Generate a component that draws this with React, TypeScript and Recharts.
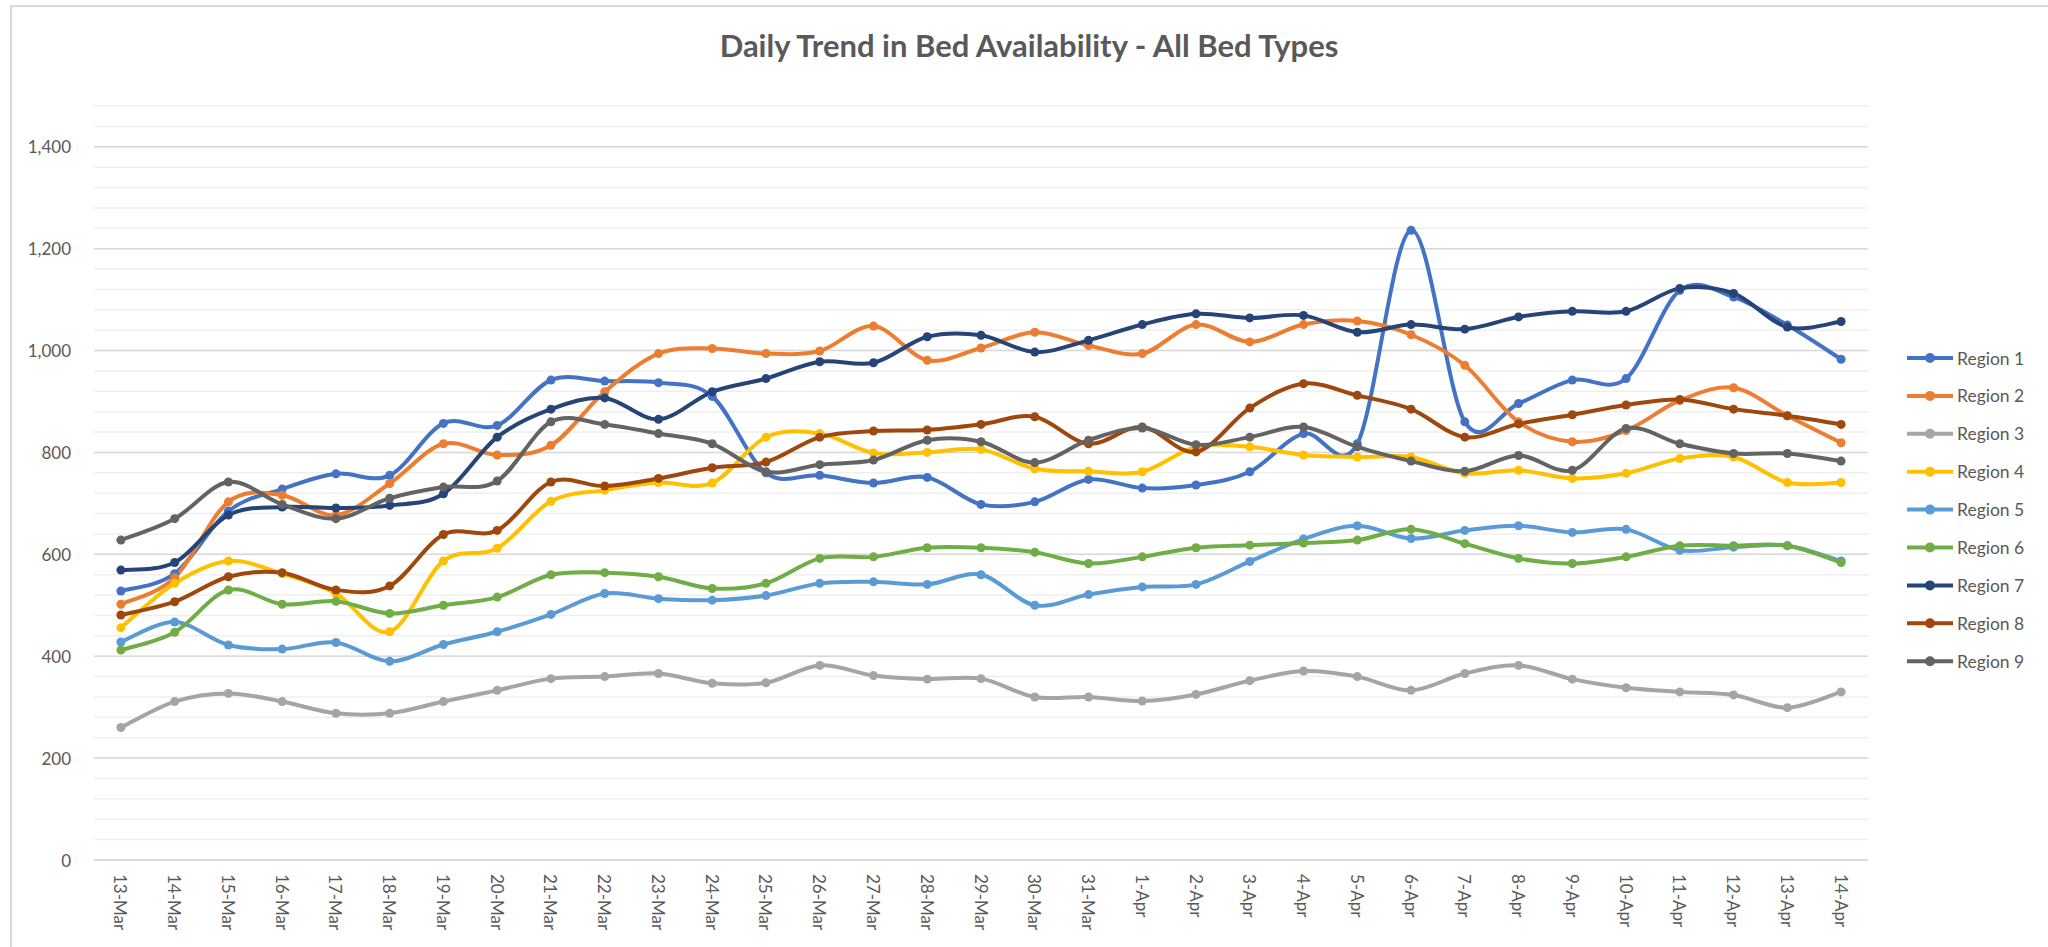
import { LineChart, Line, XAxis, YAxis, CartesianGrid, Legend } from "recharts";

const DATES = [
  "13-Mar", "14-Mar", "15-Mar", "16-Mar", "17-Mar", "18-Mar", "19-Mar", "20-Mar", "21-Mar",
  "22-Mar", "23-Mar", "24-Mar", "25-Mar", "26-Mar", "27-Mar", "28-Mar", "29-Mar", "30-Mar",
  "31-Mar", "1-Apr", "2-Apr", "3-Apr", "4-Apr", "5-Apr", "6-Apr", "7-Apr", "8-Apr", "9-Apr",
  "10-Apr", "11-Apr", "12-Apr", "13-Apr", "14-Apr",
];

const REGION_1 = [528, 562, 685, 728, 758, 755, 857, 853, 942, 940, 937, 910, 760, 755, 740, 751, 698, 703, 747, 730, 736, 762, 837, 817, 1236, 860, 896, 942, 945, 1118, 1105, 1050, 983];
const REGION_2 = [502, 554, 703, 716, 677, 739, 817, 795, 814, 919, 994, 1004, 994, 999, 1048, 981, 1005, 1036, 1010, 994, 1051, 1017, 1051, 1058, 1031, 971, 860, 821, 843, 902, 927, 872, 819];
const REGION_3 = [260, 311, 327, 311, 288, 288, 311, 333, 356, 360, 366, 347, 348, 382, 362, 355, 356, 320, 320, 312, 325, 352, 371, 360, 333, 366, 382, 355, 338, 330, 324, 299, 330];
const REGION_4 = [456, 543, 587, 562, 523, 448, 587, 612, 704, 726, 741, 740, 830, 837, 799, 800, 806, 768, 763, 762, 811, 811, 795, 791, 791, 759, 765, 749, 759, 788, 791, 741, 741];
const REGION_5 = [428, 467, 422, 414, 427, 390, 423, 448, 482, 523, 513, 510, 519, 543, 546, 541, 560, 500, 521, 536, 541, 586, 630, 656, 631, 647, 656, 643, 649, 608, 614, 617, 587];
const REGION_6 = [412, 447, 530, 502, 508, 484, 500, 516, 560, 564, 556, 533, 543, 592, 595, 613, 613, 604, 582, 595, 613, 618, 622, 628, 649, 621, 592, 582, 595, 617, 617, 617, 584];
const REGION_7 = [569, 584, 677, 693, 691, 696, 719, 830, 885, 907, 865, 919, 945, 978, 976, 1027, 1030, 997, 1020, 1051, 1072, 1064, 1069, 1036, 1051, 1042, 1066, 1077, 1077, 1122, 1112, 1046, 1057];
const REGION_8 = [481, 507, 556, 564, 530, 538, 639, 647, 742, 734, 749, 770, 781, 830, 842, 844, 855, 870, 817, 850, 801, 887, 935, 912, 885, 830, 856, 874, 893, 904, 885, 872, 855];
const REGION_9 = [628, 670, 742, 698, 670, 710, 732, 744, 860, 855, 837, 817, 762, 776, 785, 824, 821, 780, 824, 848, 815, 830, 850, 811, 783, 763, 794, 765, 847, 817, 798, 798, 783];

const SERIES = [
  { name: "Region 1", values: REGION_1, color: "#4472C4" },
  { name: "Region 2", values: REGION_2, color: "#ED7D31" },
  { name: "Region 3", values: REGION_3, color: "#A5A5A5" },
  { name: "Region 4", values: REGION_4, color: "#FFC000" },
  { name: "Region 5", values: REGION_5, color: "#5B9BD5" },
  { name: "Region 6", values: REGION_6, color: "#70AD47" },
  { name: "Region 7", values: REGION_7, color: "#264478" },
  { name: "Region 8", values: REGION_8, color: "#9E480E" },
  { name: "Region 9", values: REGION_9, color: "#636363" },
];

const Y_TICKS = [0, 200, 400, 600, 800, 1000, 1200, 1400];
const Y_MAX = 1480;
const MINOR_GRID = Array.from({ length: Y_MAX / 40 + 1 }, (_, i) => i * 40);

const FONT = "Lato, 'Open Sans', sans-serif";
const TEXT = "#595959";

const data = DATES.map((date, i) => {
  const row: Record<string, any> = { date };
  SERIES.forEach((s) => {
    row[s.name] = s.values[i];
  });
  return row;
});

// Excel-style smoothed line (Catmull-Rom through every point)
const excelSmooth = (context: any) => {
  let pts: number[][] = [];
  return {
    areaStart() {},
    areaEnd() {},
    lineStart() {
      pts = [];
    },
    point(x: number, y: number) {
      pts.push([+x, +y]);
    },
    lineEnd() {
      if (!pts.length) return;
      context.moveTo(pts[0][0], pts[0][1]);
      for (let i = 0; i < pts.length - 1; i++) {
        const p0 = pts[i - 1] || pts[i];
        const p1 = pts[i];
        const p2 = pts[i + 1];
        const p3 = pts[i + 2] || p2;
        context.bezierCurveTo(
          p1[0] + (p2[0] - p0[0]) / 6,
          p1[1] + (p2[1] - p0[1]) / 6,
          p2[0] - (p3[0] - p1[0]) / 6,
          p2[1] - (p3[1] - p1[1]) / 6,
          p2[0],
          p2[1]
        );
      }
    },
  };
};

const DateTick = ({ x, y, payload }: any) => (
  <text
    transform={`translate(${x},${y + 14}) rotate(90)`}
    textAnchor="start"
    dominantBaseline="central"
    fontSize={17}
    fontFamily={FONT}
    fill={TEXT}
  >
    {payload.value}
  </text>
);

const ValueTick = ({ x, y, payload }: any) => (
  <text x={x} y={y} textAnchor="end" dominantBaseline="central" fontSize={17} fontFamily={FONT} fill={TEXT}>
    {Number(payload.value).toLocaleString("en-US")}
  </text>
);

const RegionLegend = () => (
  <svg width={148} height={340}>
    {SERIES.map((s, i) => {
      const cy = 19 + i * 37.9;
      return (
        <g key={s.name}>
          <line x1={7} x2={53} y1={cy} y2={cy} stroke={s.color} strokeWidth={4} />
          <circle cx={30} cy={cy} r={5} fill={s.color} />
          <text x={57} y={cy} dominantBaseline="central" fontSize={17.5} fontFamily={FONT} fill={TEXT}>
            {s.name}
          </text>
        </g>
      );
    })}
  </svg>
);

export default function App() {
  return (
    <div
      style={{
        position: "absolute",
        left: 0,
        top: 0,
        width: 2048,
        height: 947,
        overflow: "hidden",
        background: "#fff",
        fontFamily: FONT,
      }}
    >
      <div
        style={{
          position: "absolute",
          left: 10,
          top: 5,
          width: 2100,
          height: 1000,
          border: "2px solid #d9d9d9",
        }}
      />
      <div
        style={{
          position: "absolute",
          left: 529,
          top: 30,
          width: 1000,
          textAlign: "center",
          fontSize: 31,
          lineHeight: "31px",
          fontWeight: 700,
          color: TEXT,
        }}
      >
        Daily Trend in Bed Availability - All Bed Types
      </div>
      <LineChart width={2048} height={947} data={data} margin={{ top: 106, right: 180, bottom: 7, left: 0 }}>
        <CartesianGrid vertical={false} horizontalValues={MINOR_GRID} stroke="#efefef" strokeWidth={1.5} />
        <CartesianGrid vertical={false} horizontalValues={Y_TICKS} stroke="#d9d9d9" strokeWidth={1.5} />
        <XAxis
          dataKey="date"
          interval={0}
          height={80}
          tickSize={0}
          tickMargin={0}
          tickLine={false}
          axisLine={{ stroke: "#d9d9d9", strokeWidth: 1.5 }}
          padding={{ left: 26.9, right: 26.9 }}
          tick={<DateTick />}
        />
        <YAxis
          width={94}
          domain={[0, Y_MAX]}
          ticks={Y_TICKS}
          interval={0}
          tickSize={0}
          tickMargin={23}
          tickLine={false}
          axisLine={false}
          tick={<ValueTick />}
        />
        <Legend
          layout="vertical"
          align="center"
          verticalAlign="middle"
          wrapperStyle={{ left: 1900, top: 339, width: 148, height: 340 }}
          content={() => <RegionLegend />}
        />
        {SERIES.map((s) => (
          <Line
            key={s.name}
            dataKey={s.name}
            type={excelSmooth as any}
            stroke={s.color}
            strokeWidth={4}
            dot={{ r: 4.5, fill: s.color, stroke: s.color, strokeWidth: 0 }}
            activeDot={false}
            isAnimationActive={false}
          />
        ))}
      </LineChart>
    </div>
  );
}
